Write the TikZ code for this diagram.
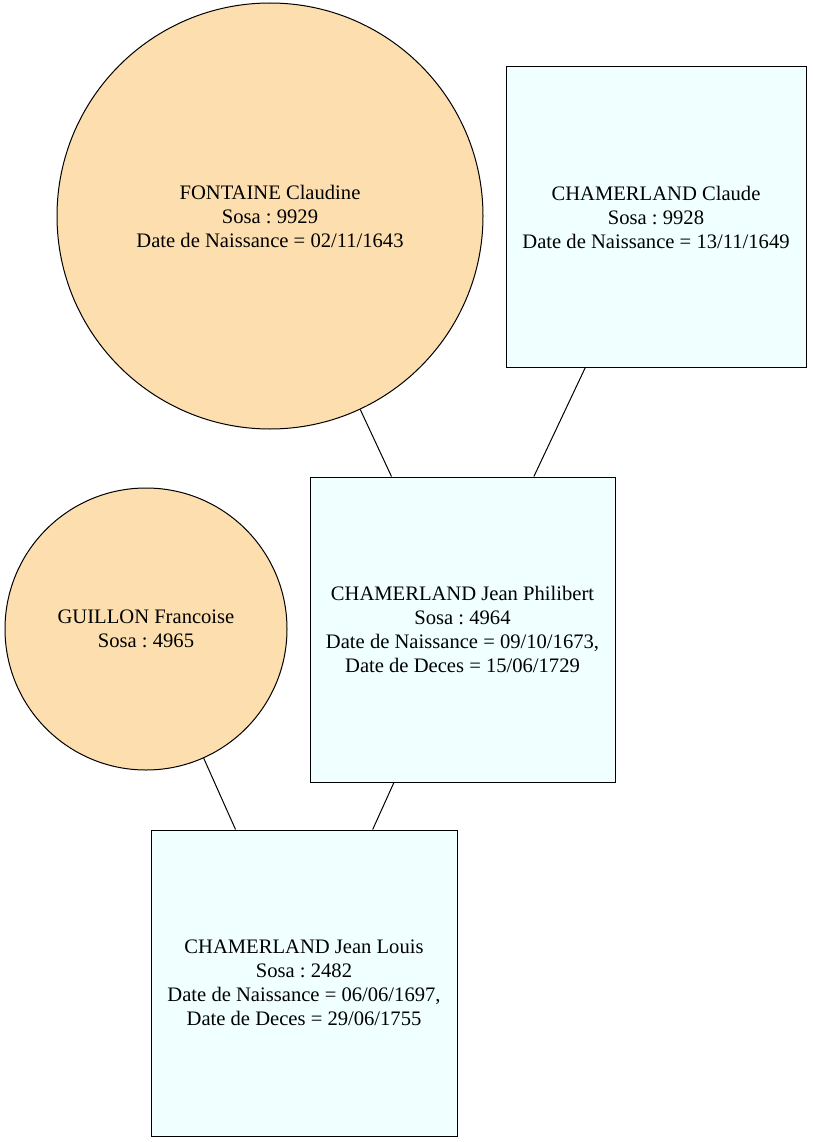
\documentclass[tikz,border=0pt]{standalone}
\usepackage{fontspec}
\setmainfont{Liberation Serif}
\usepackage{tikz}
\usetikzlibrary{positioning}
\frenchspacing
\definecolor{womanfill}{RGB}{253,222,174}
\definecolor{manfill}{RGB}{240,255,255}
\tikzset{
  woman/.style={circle,draw=black,line width=1pt,fill=womanfill,
    align=center,inner sep=0pt,font=\fontsize{20.6}{24}\selectfont},
  man/.style={rectangle,draw=black,line width=1pt,fill=manfill,
    align=center,inner sep=0pt,font=\fontsize{20.6}{24}\selectfont},
  kin/.style={line width=1pt,draw=black}
}

\begin{document}
\begin{tikzpicture}[x=1pt,y=-1pt]
  \useasboundingbox (0,0) rectangle (812,1142);
  \node[woman,minimum size=426pt] (claudine) at (270,216) {
    FONTAINE Claudine\\
    Sosa : 9929\\
    Date de Naissance = 02/11/1643};
  \node[man,minimum size=300pt] (claude) at (656,217) {
    CHAMERLAND Claude\\
    Sosa : 9928\\
    Date de Naissance = 13/11/1649};
  \node[man,minimum size=305pt] (philibert) at (462.5,629.5) {
    CHAMERLAND Jean Philibert\\
    Sosa : 4964\\
    Date de Naissance = 09/10/1673,\\
    Date de Deces = 15/06/1729};
  \node[woman,minimum size=282pt] (francoise) at (146,629) {
    GUILLON Francoise\\
    Sosa : 4965};
  \node[man,minimum size=306pt] (jeanlouis) at (304,983) {
    CHAMERLAND Jean Louis\\
    Sosa : 2482\\
    Date de Naissance = 06/06/1697,\\
    Date de Deces = 29/06/1755};

  \draw[kin] (claudine) -- (philibert);
  \draw[kin] (claude) -- (philibert);
  \draw[kin] (francoise) -- (jeanlouis);
  \draw[kin] (philibert) -- (jeanlouis);
\end{tikzpicture}
\end{document}
